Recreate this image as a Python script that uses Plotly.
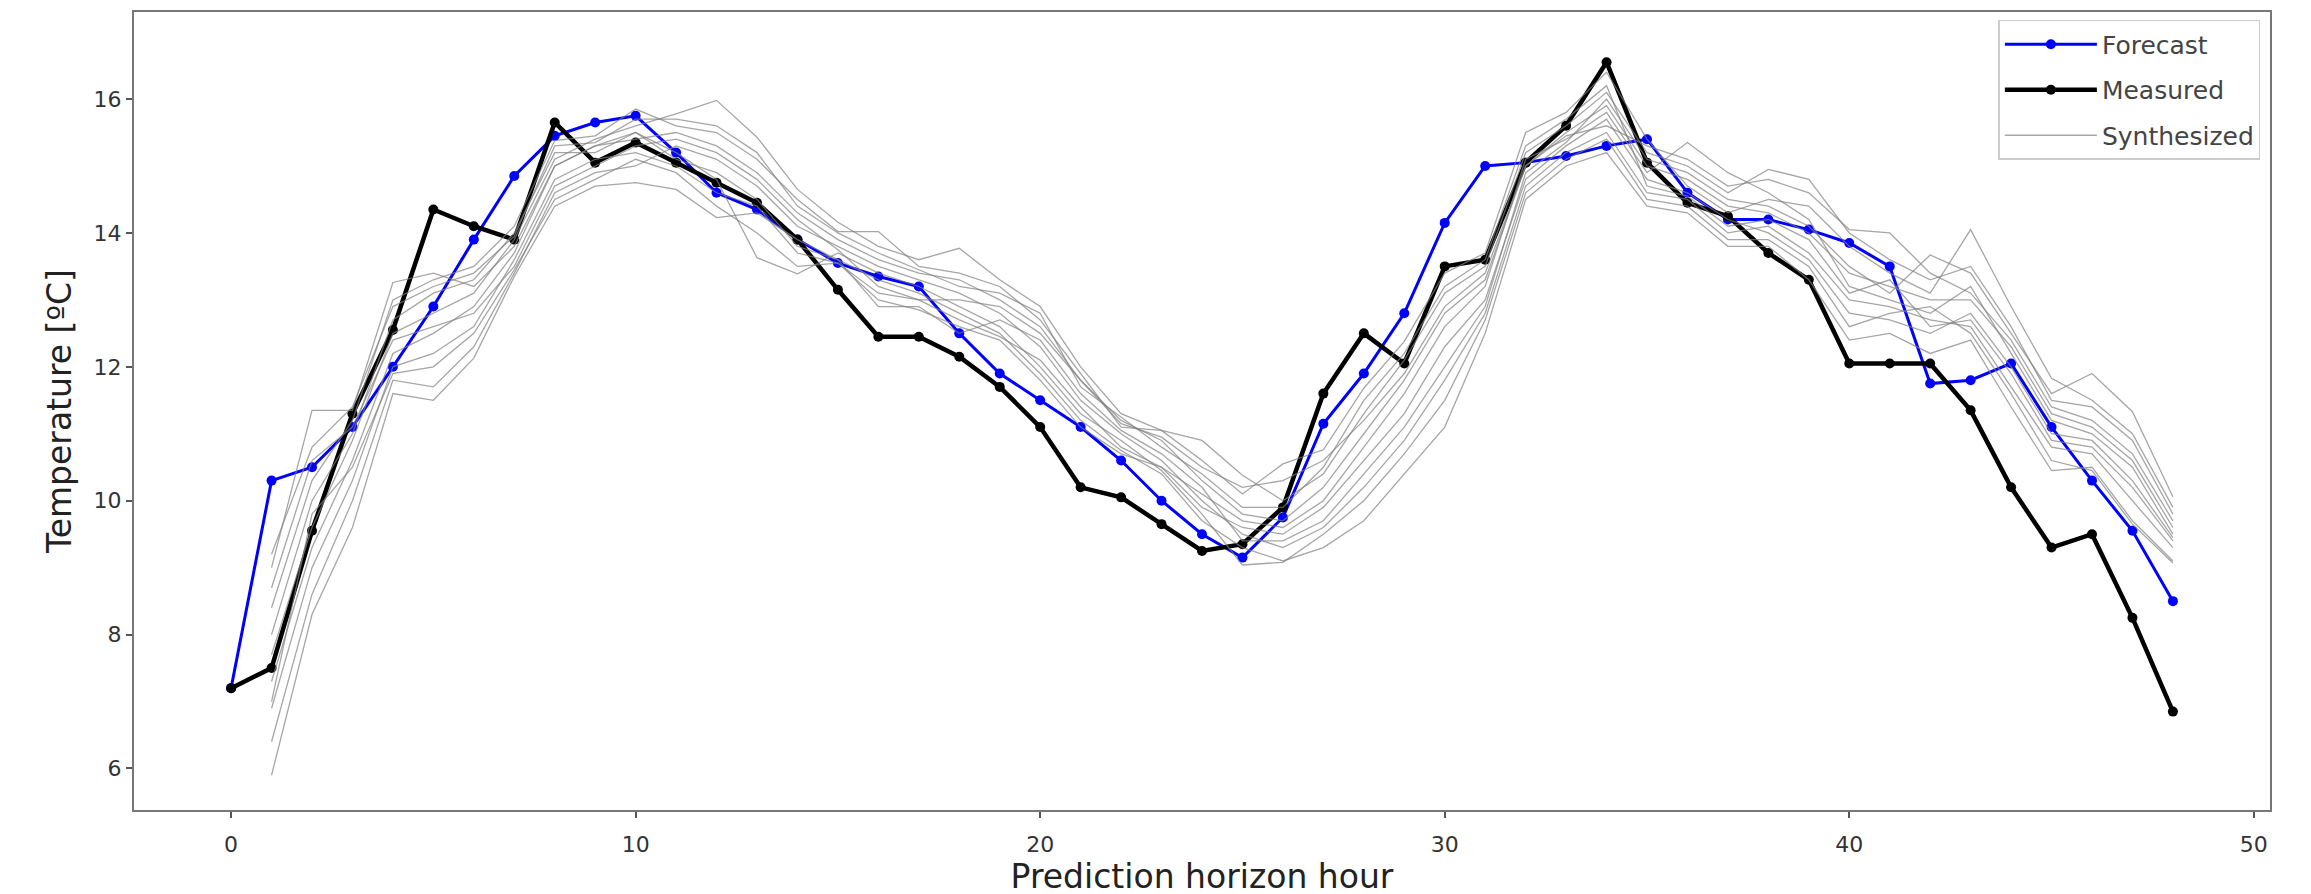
import plotly.graph_objects as go

hours = list(range(49))
synth_hours = list(range(1, 49))

forecast = [7.2, 10.3, 10.5, 11.1, 12.0, 12.9, 13.9, 14.85, 15.45, 15.65, 15.75,
            15.2, 14.6, 14.35, 13.9, 13.55, 13.35, 13.2, 12.5, 11.9, 11.5,
            11.1, 10.6, 10.0, 9.5, 9.15, 9.75, 11.15, 11.9, 12.8, 14.15,
            15.0, 15.05, 15.15, 15.3, 15.4, 14.6, 14.2, 14.2, 14.05, 13.85,
            13.5, 11.75, 11.8, 12.05, 11.1, 10.3, 9.55, 8.5]

measured = [7.2, 7.5, 9.55, 11.3, 12.55, 14.35, 14.1, 13.9, 15.65, 15.05, 15.35,
            15.05, 14.75, 14.45, 13.9, 13.15, 12.45, 12.45, 12.15, 11.7, 11.1,
            10.2, 10.05, 9.65, 9.25, 9.35, 9.9, 11.6, 12.5, 12.05, 13.5,
            13.6, 15.05, 15.6, 16.55, 15.05, 14.45, 14.25, 13.7, 13.3, 12.05,
            12.05, 12.05, 11.35, 10.2, 9.3, 9.5, 8.25, 6.85]

synth_a = [5.9, 8.3, 9.6, 11.6, 11.5, 12.13, 13.35, 14.4, 14.7, 14.75, 14.65, 14.23,
           14.3, 13.9, 13.6, 13.3, 13.1, 12.8, 12.5, 11.9, 11.2, 10.75, 10.4, 9.7,
           9.3, 9.1, 9.3, 9.7, 10.4, 11.1, 12.5, 14.5, 15.0, 15.2, 14.4, 14.3,
           13.8, 13.8, 13.3, 12.4, 12.5, 12.2, 12.4, 11.4, 10.45, 10.5, 9.7, 9.1]
synth_b = [6.4, 8.6, 10.0, 11.8, 11.7, 12.3, 13.4, 14.6, 14.9, 15.0, 15.3, 15.1,
           14.7, 14.1, 13.8, 13.5, 13.3, 13.1, 12.8, 12.3, 11.5, 11.0, 10.6, 10.0,
           9.5, 9.3, 9.6, 10.2, 10.9, 11.8, 12.8, 14.7, 15.2, 15.5, 14.6, 14.5,
           14.0, 14.1, 13.7, 13.0, 12.9, 12.7, 12.6, 11.7, 10.8, 10.7, 10.0, 9.3]
synth_c = [6.9, 9.0, 10.3, 12.0, 12.2, 12.6, 13.6, 14.8, 15.1, 15.2, 15.0, 14.6,
           14.4, 13.7, 13.55, 13.0, 12.85, 12.6, 12.4, 11.8, 11.1, 10.7, 10.5, 9.9,
           9.6, 9.5, 9.9, 10.6, 11.3, 12.3, 13.0, 14.8, 15.3, 15.7, 14.8, 14.6,
           14.2, 14.0, 13.6, 12.8, 12.7, 12.5, 12.8, 12.0, 11.0, 10.9, 10.3, 9.45]
synth_d = [7.3, 9.3, 10.6, 12.2, 12.5, 12.9, 13.7, 15.0, 15.3, 15.4, 15.5, 15.3,
           14.9, 14.3, 13.9, 13.6, 13.4, 13.3, 13.0, 12.6, 11.8, 11.2, 10.9, 10.3,
           9.8, 9.7, 10.2, 11.0, 11.8, 12.8, 13.3, 15.0, 15.5, 15.9, 15.0, 14.8,
           14.4, 14.3, 14.0, 13.4, 13.2, 13.0, 13.0, 12.3, 11.3, 11.1, 10.6, 9.6]
synth_e = [7.7, 9.6, 10.9, 12.5, 12.8, 13.1, 13.9, 15.1, 15.4, 15.6, 15.78, 15.98,
           15.43, 14.65, 14.16, 13.8, 13.6, 13.77, 13.3, 12.9, 12.0, 11.3, 11.05, 10.9,
           10.38, 10.0, 10.4, 11.3, 12.1, 13.1, 13.5, 15.2, 15.6, 16.1, 15.2, 15.0,
           14.6, 14.95, 14.8, 14.0, 13.6, 13.3, 13.5, 12.6, 11.5, 11.4, 10.9, 9.8]
synth_f = [8.0, 10.0, 11.0, 12.7, 13.1, 13.3, 14.0, 15.2, 15.2, 15.5, 15.2, 14.8,
           13.63, 13.39, 13.7, 13.4, 13.2, 12.9, 12.6, 12.0, 11.3, 10.9, 10.45, 9.8,
           9.04, 9.08, 9.5, 10.0, 10.7, 11.5, 12.7, 14.6, 15.1, 15.4, 14.5, 14.4,
           13.9, 13.9, 13.5, 12.6, 12.8, 12.9, 12.5, 11.6, 10.6, 10.45, 9.65, 9.07]
synth_g = [8.4, 10.3, 11.2, 13.0, 13.3, 13.5, 14.1, 15.38, 15.45, 15.85, 15.6, 15.5,
           15.1, 14.5, 14.02, 14.02, 13.5, 13.4, 13.2, 12.7, 11.9, 11.1, 11.05, 10.6,
           10.1, 10.55, 10.76, 11.68, 12.38, 13.4, 13.7, 15.5, 15.8, 16.4, 15.4, 14.7,
           14.3, 14.5, 14.4, 13.8, 13.4, 13.1, 14.05, 12.9, 11.83, 11.5, 11.0, 9.9]
synth_h = [8.7, 10.6, 11.1, 12.4, 12.6, 12.8, 13.5, 14.7, 15.0, 15.3, 15.4, 15.2,
           14.8, 14.2, 13.75, 13.2, 13.0, 12.7, 12.45, 12.1, 11.4, 10.8, 10.5, 10.1,
           9.7, 9.6, 10.0, 10.8, 11.6, 12.6, 13.2, 15.1, 15.4, 15.8, 14.9, 15.35,
           14.9, 14.6, 14.2, 13.2, 13.0, 12.8, 13.2, 12.2, 11.2, 11.0, 10.5, 9.5]
synth_i = [9.0, 11.35, 11.35, 13.26, 13.4, 13.2, 13.8, 15.0, 15.3, 15.5, 15.1, 14.9,
           14.5, 13.8, 13.6, 12.9, 12.9, 12.5, 12.7, 12.4, 11.6, 11.05, 10.7, 10.2,
           9.4, 9.4, 9.7, 10.4, 11.1, 12.0, 12.9, 14.9, 15.35, 16.0, 15.1, 14.9,
           14.5, 14.4, 14.1, 13.5, 13.1, 13.67, 13.4, 12.5, 11.6, 11.9, 11.33, 10.06]
synth_j = [9.2, 10.8, 11.4, 12.9, 13.2, 13.4, 13.95, 15.3, 15.35, 15.7, 15.7, 15.6,
           15.2, 14.4, 14.0, 13.7, 13.45, 13.2, 13.1, 12.8, 11.7, 11.25, 10.8, 10.4,
           9.9, 9.9, 10.5, 11.5, 12.2, 13.2, 13.6, 15.3, 15.7, 16.2, 14.7, 14.55,
           14.1, 14.2, 13.9, 13.1, 13.3, 12.6, 12.7, 11.9, 10.9, 10.8, 10.2, 9.4]
synth_k = [7.0, 9.8, 10.5, 11.9, 12.0, 12.5, 13.45, 14.5, 14.8, 15.1, 14.9, 14.4,
           14.0, 13.5, 13.55, 13.1, 13.0, 13.0, 12.9, 12.5, 11.8, 11.15, 10.95, 10.5,
           10.2, 10.3, 10.6, 11.2, 11.9, 12.9, 13.4, 15.0, 15.45, 15.6, 15.3, 15.1,
           14.7, 14.8, 14.6, 14.05, 14.0, 13.4, 13.1, 12.4, 11.4, 11.2, 10.7, 9.7]

synth_series = [synth_a, synth_b, synth_c, synth_d, synth_e, synth_f,
                synth_g, synth_h, synth_i, synth_j, synth_k]

x_ticks = [0, 10, 20, 30, 40, 50]
y_ticks = [6, 8, 10, 12, 14, 16]

FONT = "DejaVu Sans"

fig = go.Figure()

fig.add_trace(go.Scatter(
    x=hours, y=forecast, mode="lines+markers", name="Forecast",
    line=dict(color="#0000ff", width=3),
    marker=dict(color="#0000ff", size=10, symbol="circle"),
))
fig.add_trace(go.Scatter(
    x=hours, y=measured, mode="lines+markers", name="Measured",
    line=dict(color="#000000", width=4.5),
    marker=dict(color="#000000", size=10, symbol="circle"),
))
for i, s in enumerate(synth_series):
    fig.add_trace(go.Scatter(
        x=synth_hours, y=s, mode="lines", name="Synthesized",
        line=dict(color="rgba(128,128,128,0.7)", width=1.3),
        showlegend=(i == 0), legendgroup="synth",
    ))

fig.update_layout(
    width=2311, height=894,
    margin=dict(l=126, r=49, t=4, b=92),
    paper_bgcolor="white", plot_bgcolor="white",
    font=dict(family=FONT, color="#333333"),
    showlegend=True,
    legend=dict(
        x=0.9955, y=0.99, xanchor="right", yanchor="top",
        bgcolor="rgba(255,255,255,0.85)", bordercolor="#cccccc", borderwidth=1.5,
        font=dict(family=FONT, size=25, color="#444444"),
        itemwidth=92,
    ),
)

fig.update_xaxes(
    range=[-2.4, 50.4], tickvals=x_ticks, ticktext=[str(v) for v in x_ticks],
    showgrid=False, zeroline=False,
    showline=True, mirror=True, linecolor="#777777", linewidth=2,
    ticks="outside", ticklen=6, tickwidth=1.5, tickcolor="#555555",
    ticklabelstandoff=8,
    tickfont=dict(family=FONT, size=22, color="#333333"),
    title=dict(text="Prediction horizon hour",
               font=dict(family=FONT, size=33, color="#222222"), standoff=4),
    automargin=False,
)
fig.update_yaxes(
    range=[5.38, 17.3], tickvals=y_ticks, ticktext=[str(v) for v in y_ticks],
    showgrid=False, zeroline=False,
    showline=True, mirror=True, linecolor="#777777", linewidth=2,
    ticks="outside", ticklen=6, tickwidth=1.5, tickcolor="#555555",
    tickfont=dict(family=FONT, size=22, color="#333333"),
    title=dict(text="Temperature [ºC]",
               font=dict(family=FONT, size=33, color="#222222"), standoff=12),
    automargin=False,
)

fig.write_html("out.html")
